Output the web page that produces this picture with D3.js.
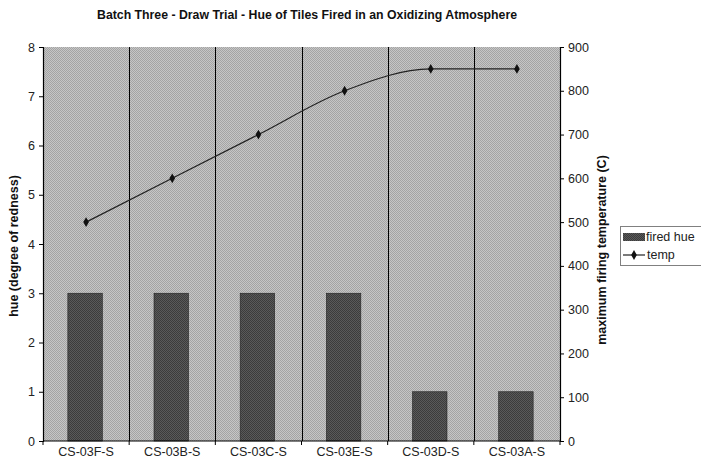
<!DOCTYPE html>
<html><head><meta charset="utf-8">
<script src="https://cdn.jsdelivr.net/npm/d3@7"></script>
<style>body{margin:0;background:#fff}svg{display:block;font-family:"Liberation Sans",Arial,sans-serif}</style>
</head><body>
<svg id="c" width="701" height="466"></svg>
<script>
const categories = ["CS-03F-S","CS-03B-S","CS-03C-S","CS-03E-S","CS-03D-S","CS-03A-S"];
const firedHue = [3,3,3,3,1,1];
const temp = [500,600,700,800,850,850];
const leftTicks = [0,1,2,3,4,5,6,7,8];
const rightTicks = [0,100,200,300,400,500,600,700,800,900];

const svg = d3.select("#c");
const L = 43, R = 560, T = 47, B = 441;
const x = d3.scaleBand().domain(categories).range([L, R]).paddingInner(0).paddingOuter(0);
const yL = d3.scaleLinear().domain([0, 8]).range([B, T]);
const yR = d3.scaleLinear().domain([0, 900]).range([B, T]);

const defs = svg.append("defs");
const p1 = defs.append("pattern").attr("id","bg").attr("width",2).attr("height",2).attr("patternUnits","userSpaceOnUse");
p1.append("rect").attr("width",2).attr("height",2).attr("fill","#c6c6c6");
p1.append("rect").attr("width",1).attr("height",1).attr("fill","#a4a4a4");
p1.append("rect").attr("x",1).attr("y",1).attr("width",1).attr("height",1).attr("fill","#a4a4a4");
const p2 = defs.append("pattern").attr("id","bar").attr("width",2).attr("height",2).attr("patternUnits","userSpaceOnUse");
p2.append("rect").attr("width",2).attr("height",2).attr("fill","#5a5a5a");
p2.append("rect").attr("width",1).attr("height",1).attr("fill","#3c3c3c");
p2.append("rect").attr("x",1).attr("y",1).attr("width",1).attr("height",1).attr("fill","#3c3c3c");

svg.append("rect").attr("x",L).attr("y",T).attr("width",R-L).attr("height",B-T).attr("fill","url(#bg)");

// vertical gridlines at category boundaries
svg.append("g").selectAll("line").data(categories.slice(1)).join("line")
  .attr("x1", d => Math.round(x(d))+0.5).attr("x2", d => Math.round(x(d))+0.5)
  .attr("y1", T).attr("y2", B).attr("stroke","#000").attr("stroke-width",1);

// bars
const bw = x.bandwidth()*0.4;
svg.append("g").selectAll("rect").data(categories).join("rect")
  .attr("x", (d,i) => x(d) + x.bandwidth()/2 - bw/2 - 1)
  .attr("y", (d,i) => yL(firedHue[i]))
  .attr("width", bw)
  .attr("height", (d,i) => B - yL(firedHue[i]))
  .attr("fill","url(#bar)").attr("stroke","#222").attr("stroke-width",0.6);

// line
const pts = categories.map((d,i) => [x(d)+x.bandwidth()/2, yR(temp[i])]);
svg.append("path").attr("d", d3.line().curve(d3.curveMonotoneX)(pts))
  .attr("fill","none").attr("stroke","#222").attr("stroke-width",1.2);
svg.append("g").selectAll("path").data(pts).join("path")
  .attr("transform", d => `translate(${d[0]},${d[1]})`)
  .attr("d", d3.symbol(d3.symbolDiamond, 28)).attr("fill","#111");

// axes
const axL = svg.append("g").attr("transform",`translate(${L},0)`)
  .call(d3.axisLeft(yL).tickValues(leftTicks).tickSize(4).tickFormat(d3.format("d")));
const axR = svg.append("g").attr("transform",`translate(${R},0)`)
  .call(d3.axisRight(yR).tickValues(rightTicks).tickSize(4).tickFormat(d3.format("d")));
const axB = svg.append("g").attr("transform",`translate(0,${B})`)
  .call(d3.axisBottom(x).tickSize(0).tickPadding(6));
// bottom ticks at boundaries
svg.append("g").selectAll("line").data(categories.concat(["end"])).join("line")
  .attr("x1",(d,i)=> L + i*x.bandwidth()).attr("x2",(d,i)=> L + i*x.bandwidth())
  .attr("y1",B).attr("y2",B+4).attr("stroke","#000");
[axL,axR,axB].forEach(a => {
  a.selectAll("path.domain").attr("stroke","#000").attr("stroke-width",1.2);
  a.selectAll("text").attr("font-size",12.5).attr("fill","#222").attr("font-family","Liberation Sans, Arial, sans-serif");
});
axL.selectAll("text").attr("x",-8);
axR.selectAll("text").attr("x",8);
axB.select("path.domain").attr("d",`M${L},0H${R}`);

// titles
svg.append("text").attr("x",307).attr("y",19).attr("text-anchor","middle")
  .attr("font-size",12).attr("font-weight","bold").attr("fill","#111")
  .attr("textLength",420).attr("lengthAdjust","spacingAndGlyphs")
  .text("Batch Three - Draw Trial - Hue of Tiles Fired in an Oxidizing Atmosphere");
svg.append("text").attr("transform","translate(18,246) rotate(-90)").attr("text-anchor","middle")
  .attr("font-size",12.5).attr("font-weight","bold").attr("fill","#111")
  .text("hue (degree of redness)");
svg.append("text").attr("transform","translate(606,250) rotate(-90)").attr("text-anchor","middle")
  .attr("font-size",12.5).attr("font-weight","bold").attr("fill","#111")
  .text("maximum firing temperature (C)");

// legend
const lg = svg.append("g");
lg.append("rect").attr("x",620.5).attr("y",226.5).attr("width",90).attr("height",39)
  .attr("fill","#fff").attr("stroke","#000").attr("stroke-dasharray","1,1");
lg.append("rect").attr("x",623).attr("y",233).attr("width",22).attr("height",8).attr("fill","url(#bar)");
lg.append("text").attr("x",646).attr("y",241).attr("font-size",12.5).attr("fill","#222").text("fired hue");
lg.append("line").attr("x1",623).attr("x2",645).attr("y1",255).attr("y2",255).attr("stroke","#222").attr("stroke-width",1.2);
lg.append("path").attr("transform","translate(634,255)").attr("d",d3.symbol(d3.symbolDiamond,28)).attr("fill","#111");
lg.append("text").attr("x",647).attr("y",259).attr("font-size",12.5).attr("fill","#222").text("temp");
</script>
</body></html>
